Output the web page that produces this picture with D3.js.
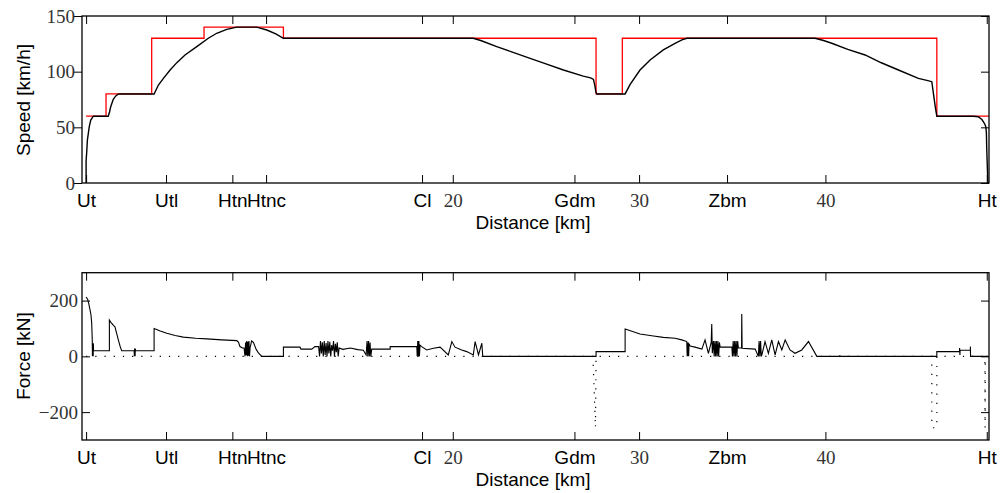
<!DOCTYPE html>
<html><head><meta charset="utf-8">
<script src="https://cdn.jsdelivr.net/npm/d3@7/dist/d3.min.js"></script>
<style>body{margin:0;background:#fff}svg{display:block}</style>
</head><body><svg id="c" width="1005" height="493"></svg>
<script>
// ---- data ----
const stationNames = ["Ut","Utl","Htn","Htnc","Cl","Gdm","Zbm","Ht"];
const stationKm    = [0.32, 4.61, 8.17, 9.98, 18.35, 26.53, 34.72, 48.66];
const kmTicks      = [20, 30, 40];
const speedTicks   = [0, 50, 100, 150];
const forceTicks   = [-200, 0, 200];

const limitDist = [0.32,1.39,1.39,3.84,3.84,6.65,6.65,10.91,10.91,27.69,27.69,29.1,29.1,45.98,45.98,48.78];
const limitVal  = [60,60,80,80,130,130,140,140,130,130,80,80,130,130,60,60];

const speedDist = [0.32,0.32,0.35,0.39,0.44,0.49,0.57,0.71,1.51,1.58,1.64,1.78,1.90,2.0,2.1,3.97,4.2,4.47,4.83,5.19,5.63,6.26,6.88,7.33,7.87,8.41,8.6,9.48,10.02,10.5,10.91,21.1,21.5,22.36,23.2,24.15,25.0,25.94,27.0,27.4,27.55,27.62,27.68,27.73,29.25,29.52,30.05,30.59,31.3,31.93,32.3,32.56,39.45,39.9,40.34,41.2,42.13,43.0,43.92,44.99,45.5,45.71,45.8,45.9,45.98,47.94,48.2,48.4,48.55,48.61,48.64,48.66,48.7,48.72];
const speedVal  = [0,20,27,38.6,44.6,50.6,56.6,60,60,64,68.5,75.2,78,79.3,80,80,88,94,101.5,108.1,115,122.5,130,134.5,138,140,140,140,137.4,134,130,130,128,122.5,117.5,112,107,101.5,96,94.5,93,88,82,80,80,88.5,101.5,110.5,119.5,125.5,128.5,130,130,128,125.5,120,115,108,101.5,94,92,91,80,68,60,60,59.5,57,53,50.6,45,30,10,0];

const tractDist = [0.32,0.40,0.46,0.52,0.58,0.62,0.65,0.66,0.67,0.68,0.69,0.70,0.71,0.72,1.57,1.57,1.65,1.8,1.87,1.95,2.05,2.15,2.23,2.9,2.91,2.92,2.93,2.94,2.95,2.96,2.97,3.97,3.97,4.3,4.65,5.1,5.54,6.2,6.8,7.6,8.41,8.5,8.58,8.7,8.8,8.85,8.88,8.91,8.94,8.97,9.0,9.03,9.06,9.09,9.12,9.2,9.3,9.45,9.57,9.75,10.91,10.91,11.8,11.85,12.43,12.6,12.8,12.85,12.9,12.95,13.0,13.05,13.1,13.15,13.2,13.25,13.3,13.35,13.4,13.45,13.5,13.55,13.6,13.65,13.7,13.75,13.8,13.85,13.9,14.1,14.5,14.9,15.2,15.35,15.40,15.44,15.48,15.52,15.56,15.6,15.65,16.64,16.64,18.07,18.09,18.12,18.15,18.18,18.21,18.24,18.33,18.6,18.96,19.32,19.76,19.95,20.12,20.48,20.75,21.1,21.2,21.38,21.56,21.61,27.69,27.69,29.25,29.25,30.05,30.77,31.3,31.93,32.29,32.56,32.58,32.6,32.62,32.64,32.66,32.68,32.74,33.0,33.37,33.54,33.72,33.87,33.9,33.93,33.99,34.03,34.07,34.11,34.15,34.19,34.23,34.27,34.31,34.35,34.98,35.01,35.05,35.09,35.13,35.17,35.21,35.25,35.29,35.33,35.5,35.51,35.53,36.23,36.4,36.44,36.48,36.52,36.56,36.59,36.76,36.94,37.12,37.3,37.48,37.66,37.84,38.1,38.37,38.73,39.09,39.54,40.77,40.78,40.79,45.98,45.98,47.2,47.2,47.22,47.23,47.78,47.78,47.79,48.75];
const tractVal  = [213,205,190,170,150,120,60,0,47,0,47,0,47,20,20,130,122,110,106,85,59,35,20,20,0,28,0,28,0,28,20,20,100,91,83,75,69,65,62.5,59,56.5,50,35,30,30,0,50,5,55,0,52,2,55,0,30,55,50,25,12,0,0,33,33,26,26,35,35,0,55,10,50,0,55,5,48,0,55,10,52,0,40,20,55,0,45,15,50,0,30,25,30,24,22,5,55,0,55,0,50,0,26,26,35,35,0,55,0,55,0,40,35,23,29,33,5,53,33,23,17,5,53,5,47,0,0,17,17,98,80,73,68,65,59,53,0,50,0,50,0,45,37,33,26,59,11,50,116,11,55,0,55,0,55,0,55,0,50,33,33,0,55,0,55,0,55,0,55,30,30,152,29,26,0,55,0,55,0,5,53,11,59,5,53,23,59,23,11,23,53,0,0,4,0,0,17,17,30,5,22,22,35,0,0];

const brakeDist = [0.32,27.52,27.66,27.69,45.71,45.71,45.98,45.98,48.56,48.57,48.58,48.75];
const brakeVal  = [0,0,-256,0,0,-256,-256,0,0,-256,0,0];

// ---- layout ----
const svg = d3.select("#c");
const L = 82, R = 989;
const x = d3.scaleLinear().domain([0.1, 48.78]).range([L, R]);
const top1 = 16, bot1 = 183, top2 = 272.7, bot2 = 440;
const yS = d3.scaleLinear().domain([0,150]).range([bot1, top1]);
const yF = d3.scaleLinear().domain([-300,300]).range([bot2, top2]);

const xTickVals = stationKm.concat(kmTicks);
const xTickLab = stationNames.concat(kmTicks.map(String));
const serif = "'Liberation Serif','Times New Roman',serif";
const sans = "'Liberation Sans',Arial,sans-serif";

function xAxes(yTop, yBot, labelY, titleY) {
  const gb = svg.append("g").attr("transform", `translate(0,${yBot})`)
    .call(d3.axisBottom(x).tickValues(xTickVals).tickSize(-8).tickFormat((d,i)=>xTickLab[i]));
  gb.select(".domain").remove();
  gb.selectAll(".tick line").attr("stroke","#000").attr("stroke-width",1);
  gb.selectAll(".tick text").attr("y", labelY - yBot).attr("dy", null)
    .attr("fill", (d,i)=> i < stationNames.length ? "#000" : "#333")
    .style("font-family", (d,i)=> i < stationNames.length ? sans : serif)
    .style("font-size", "19px");
  const gt = svg.append("g").attr("transform", `translate(0,${yTop})`)
    .call(d3.axisTop(x).tickValues(xTickVals).tickSize(-8).tickFormat(""));
  gt.select(".domain").remove();
  gt.selectAll(".tick line").attr("stroke","#000");
  svg.append("text").attr("x", 533).attr("y", titleY).attr("text-anchor","middle")
    .style("font-family", sans).style("font-size","19px").text("Distance [km]");
}

function frame(yTop, yBot) {
  svg.append("rect").attr("x", L).attr("y", yTop).attr("width", R-L).attr("height", yBot-yTop)
    .attr("fill","none").attr("stroke","#000").attr("stroke-width",1.3);
}

// ---- top plot ----
const gl1 = svg.append("g").attr("transform", `translate(${L},0)`)
  .call(d3.axisLeft(yS).tickValues(speedTicks).tickSize(8).tickPadding(3));
gl1.select(".domain").remove();
gl1.selectAll(".tick line").attr("stroke","#000");
gl1.selectAll(".tick text").attr("fill","#333").style("font-family",serif).style("font-size","19px")
  .attr("x", -7);
const gr1 = svg.append("g").attr("transform", `translate(${R},0)`)
  .call(d3.axisRight(yS).tickValues(speedTicks).tickSize(-8).tickFormat(""));
gr1.select(".domain").remove();
gr1.selectAll(".tick line").attr("stroke","#000");
xAxes(top1, bot1, 207, 229);

const lim = d3.line().x((d,i)=>x(limitDist[i])).y((d,i)=>yS(d));
svg.append("path").attr("d", lim(limitVal)).attr("fill","none").attr("stroke","#ff0000").attr("stroke-width",1.3);
const sp = d3.line().x((d,i)=>x(speedDist[i])).y((d,i)=>yS(d));
svg.append("path").attr("d", sp(speedVal)).attr("fill","none").attr("stroke","#000").attr("stroke-width",1.4);
frame(top1, bot1);

svg.append("text").attr("transform","translate(30,100) rotate(-90)").attr("text-anchor","middle")
  .style("font-family",sans).style("font-size","19px").text("Speed [km/h]");

// ---- bottom plot ----
const gl2 = svg.append("g").attr("transform", `translate(${L},0)`)
  .call(d3.axisLeft(yF).tickValues(forceTicks).tickSize(-8).tickPadding(4)
    .tickFormat(d => d < 0 ? "\u2212" + Math.abs(d) : String(d)));
gl2.select(".domain").remove();
gl2.selectAll(".tick line").attr("stroke","#000");
gl2.selectAll(".tick text").attr("fill","#333").style("font-family",serif).style("font-size","19px");
const gr2 = svg.append("g").attr("transform", `translate(${R},0)`)
  .call(d3.axisRight(yF).tickValues(forceTicks).tickSize(-8).tickFormat(""));
gr2.select(".domain").remove();
gr2.selectAll(".tick line").attr("stroke","#000");
xAxes(top2, bot2, 464, 486);

const br = d3.line().x((d,i)=>x(brakeDist[i])).y((d,i)=>yF(d));
svg.append("path").attr("d", br(brakeVal)).attr("fill","none").attr("stroke","#000")
  .attr("stroke-width",1.2).attr("stroke-dasharray","1.2,8");
const tr = d3.line().x((d,i)=>x(tractDist[i])).y((d,i)=>yF(d));
svg.append("path").attr("d", tr(tractVal)).attr("fill","none").attr("stroke","#000").attr("stroke-width",1.1);
frame(top2, bot2);

svg.append("text").attr("transform","translate(30,356) rotate(-90)").attr("text-anchor","middle")
  .style("font-family",sans).style("font-size","19px").text("Force [kN]");
</script></body></html>
